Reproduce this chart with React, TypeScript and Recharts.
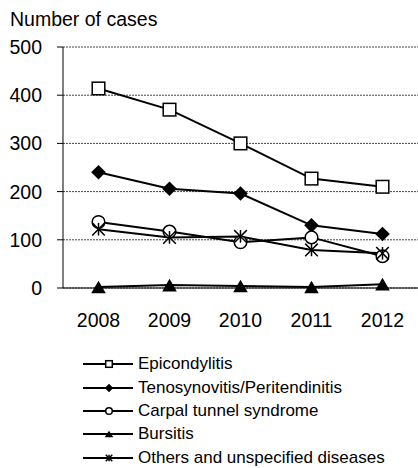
import { CartesianGrid, Legend, Line, LineChart, XAxis, YAxis } from 'recharts'

const years = ['2008', '2009', '2010', '2011', '2012']
const epicondylitis = [414, 370, 300, 227, 210]
const tenosynovitis = [240, 206, 196, 130, 112]
const carpalTunnel = [137, 117, 95, 105, 66]
const bursitis = [2, 6, 4, 2, 8]
const others = [122, 105, 107, 79, 72]
const yTicks = [0, 100, 200, 300, 400, 500]

type MarkerKind = 'square' | 'diamond' | 'circle' | 'triangle' | 'star'

const SERIES: { key: string; name: string; values: number[]; marker: MarkerKind }[] = [
  { key: 'epi', name: 'Epicondylitis', values: epicondylitis, marker: 'square' },
  { key: 'teno', name: 'Tenosynovitis/Peritendinitis', values: tenosynovitis, marker: 'diamond' },
  { key: 'carpal', name: 'Carpal tunnel syndrome', values: carpalTunnel, marker: 'circle' },
  { key: 'bursitis', name: 'Bursitis', values: bursitis, marker: 'triangle' },
  { key: 'others', name: 'Others and unspecified diseases', values: others, marker: 'star' },
]

const data = years.map((year, i) => {
  const row: Record<string, string | number> = { year }
  SERIES.forEach((s) => {
    row[s.key] = s.values[i]
  })
  return row
})

const FONT = '"Liberation Sans", Arial, sans-serif'

// draws one marker shape centred on (cx, cy); s is half the size
function Marker({ kind, cx, cy, s }: { kind: MarkerKind; cx: number; cy: number; s: number }) {
  switch (kind) {
    case 'square':
      return <rect x={cx - s} y={cy - s} width={s * 2} height={s * 2} fill="#fff" stroke="#000" strokeWidth={1.5} />
    case 'diamond':
      return (
        <polygon
          points={`${cx},${cy - s - 1} ${cx + s + 1},${cy} ${cx},${cy + s + 1} ${cx - s - 1},${cy}`}
          fill="#000"
        />
      )
    case 'circle':
      return <circle cx={cx} cy={cy} r={s} fill="#fff" stroke="#000" strokeWidth={1.5} />
    case 'triangle':
      return <polygon points={`${cx},${cy - s} ${cx + s + 1},${cy + s} ${cx - s - 1},${cy + s}`} fill="#000" />
    case 'star':
      return (
        <g stroke="#000" strokeWidth={1.5}>
          <line x1={cx - s} y1={cy - s} x2={cx + s} y2={cy + s} />
          <line x1={cx - s} y1={cy + s} x2={cx + s} y2={cy - s} />
          <line x1={cx} y1={cy - s} x2={cx} y2={cy + s} />
        </g>
      )
  }
}

function makeDot(kind: MarkerKind) {
  return (props: any) => {
    const { cx, cy, index } = props
    return (
      <g key={`${kind}-${index}`}>
        <Marker kind={kind} cx={cx} cy={cy} s={6.3} />
      </g>
    )
  }
}

function LegendContent() {
  return (
    <div style={{ fontFamily: FONT, fontSize: 17, color: '#000' }}>
      {SERIES.map((s) => (
        <div key={s.key} style={{ display: 'flex', alignItems: 'center', height: 23.4 }}>
          <svg width={52} height={16} style={{ display: 'block' }}>
            <line x1={0} y1={8} x2={50} y2={8} stroke="#000" strokeWidth={2} />
            <Marker kind={s.marker} cx={26} cy={8} s={3.3} />
          </svg>
          <span style={{ marginLeft: 3, whiteSpace: 'nowrap', lineHeight: '20px' }}>{s.name}</span>
        </div>
      ))}
    </div>
  )
}

export default function App() {
  return (
    <div style={{ position: 'absolute', left: 0, top: 0, width: 418, height: 468, background: '#fff' }}>
      <div
        style={{
          position: 'absolute',
          left: 10,
          top: 8,
          fontFamily: FONT,
          fontSize: 19.5,
          color: '#000',
          whiteSpace: 'nowrap',
        }}
      >
        Number of cases
      </div>
      <LineChart width={418} height={468} data={data} margin={{ top: 47, right: 0, left: 0, bottom: 140 }}>
        <CartesianGrid vertical={false} stroke="#444" strokeDasharray="2 1" strokeWidth={1} />
        <XAxis
          dataKey="year"
          scale="band"
          height={40}
          tickLine={false}
          tickSize={6}
          tickMargin={19}
          axisLine={{ stroke: '#000', strokeWidth: 1 }}
          tick={{ fill: '#000', fontSize: 19.5, fontFamily: FONT }}
        />
        <YAxis
          width={63}
          domain={[0, 500]}
          ticks={yTicks}
          interval={0}
          tickSize={6}
          tickMargin={15}
          tickLine={{ stroke: '#000' }}
          axisLine={{ stroke: '#000', strokeWidth: 1 }}
          tick={{ fill: '#000', fontSize: 19.5, fontFamily: FONT }}
        />
        <Legend
          layout="vertical"
          align="center"
          verticalAlign="middle"
          wrapperStyle={{ left: 83, top: 352.5, width: 335 }}
          content={() => <LegendContent />}
        />
        {SERIES.map((s) => (
          <Line
            key={s.key}
            dataKey={s.key}
            name={s.name}
            type="linear"
            stroke="#000"
            strokeWidth={2}
            dot={makeDot(s.marker)}
            activeDot={false}
            isAnimationActive={false}
          />
        ))}
      </LineChart>
    </div>
  )
}
